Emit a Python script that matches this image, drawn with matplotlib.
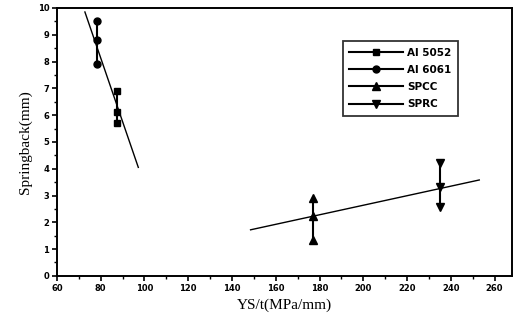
import matplotlib
matplotlib.use("Agg")
import matplotlib.pyplot as plt
from matplotlib.ticker import MultipleLocator

# measured springback values (three per material)
al5052_x = [87.5, 87.5, 87.5]
al5052_y = [6.9, 6.12, 5.72]
al6061_x = [78.2, 78.2, 78.2]
al6061_y = [9.53, 8.82, 7.92]
spcc_x = [176.8, 176.8, 176.8]
spcc_y = [2.9, 2.23, 1.35]
sprc_x = [235.2, 235.2, 235.2]
sprc_y = [4.2, 3.3, 2.56]

# fitted lines (end points)
al_fit_x = [72.8, 97.2]
al_fit_y = [9.85, 4.05]
steel_fit_x = [148.5, 253.0]
steel_fit_y = [1.72, 3.58]

fig = plt.figure(figsize=(5.22, 3.32), dpi=100)
ax = fig.add_axes([0.109, 0.169, 0.872, 0.807])

ax.plot(al_fit_x, al_fit_y, color="black", lw=1.0)
ax.plot(steel_fit_x, steel_fit_y, color="black", lw=1.0)

ax.plot(al5052_x, al5052_y, "-s", color="black", lw=1.5, ms=5, label="Al 5052")
ax.plot(al6061_x, al6061_y, "-o", color="black", lw=1.5, ms=5, label="Al 6061")
ax.plot(spcc_x, spcc_y, "-^", color="black", lw=1.5, ms=6, label="SPCC")
ax.plot(sprc_x, sprc_y, "-v", color="black", lw=1.5, ms=6, label="SPRC")

ax.set_xlim(60, 268)
ax.set_ylim(0, 10)
ax.xaxis.set_major_locator(MultipleLocator(20))
ax.xaxis.set_minor_locator(MultipleLocator(10))
ax.yaxis.set_major_locator(MultipleLocator(1))
ax.yaxis.set_minor_locator(MultipleLocator(0.5))
ax.tick_params(which="major", direction="out", length=3.5, width=1.2, labelsize=6, pad=2)
ax.tick_params(which="minor", direction="out", length=2, width=1.0)
for lab in ax.get_xticklabels() + ax.get_yticklabels():
    lab.set_fontweight("bold")
for sp in ax.spines.values():
    sp.set_linewidth(1.4)

ax.set_xlabel("YS/t(MPa/mm)", family="Liberation Serif", fontsize=11)
ax.set_ylabel("Springback(mm)", family="Liberation Serif", fontsize=11)

leg = ax.legend(loc="upper right", bbox_to_anchor=(0.892, 0.895), fancybox=False,
                edgecolor="black", handlelength=5.2, handletextpad=0.4,
                borderpad=0.6, labelspacing=0.7,
                prop={"weight": "bold", "size": 7.5})
leg.get_frame().set_linewidth(1.3)

fig.savefig("out.png", dpi=100)
